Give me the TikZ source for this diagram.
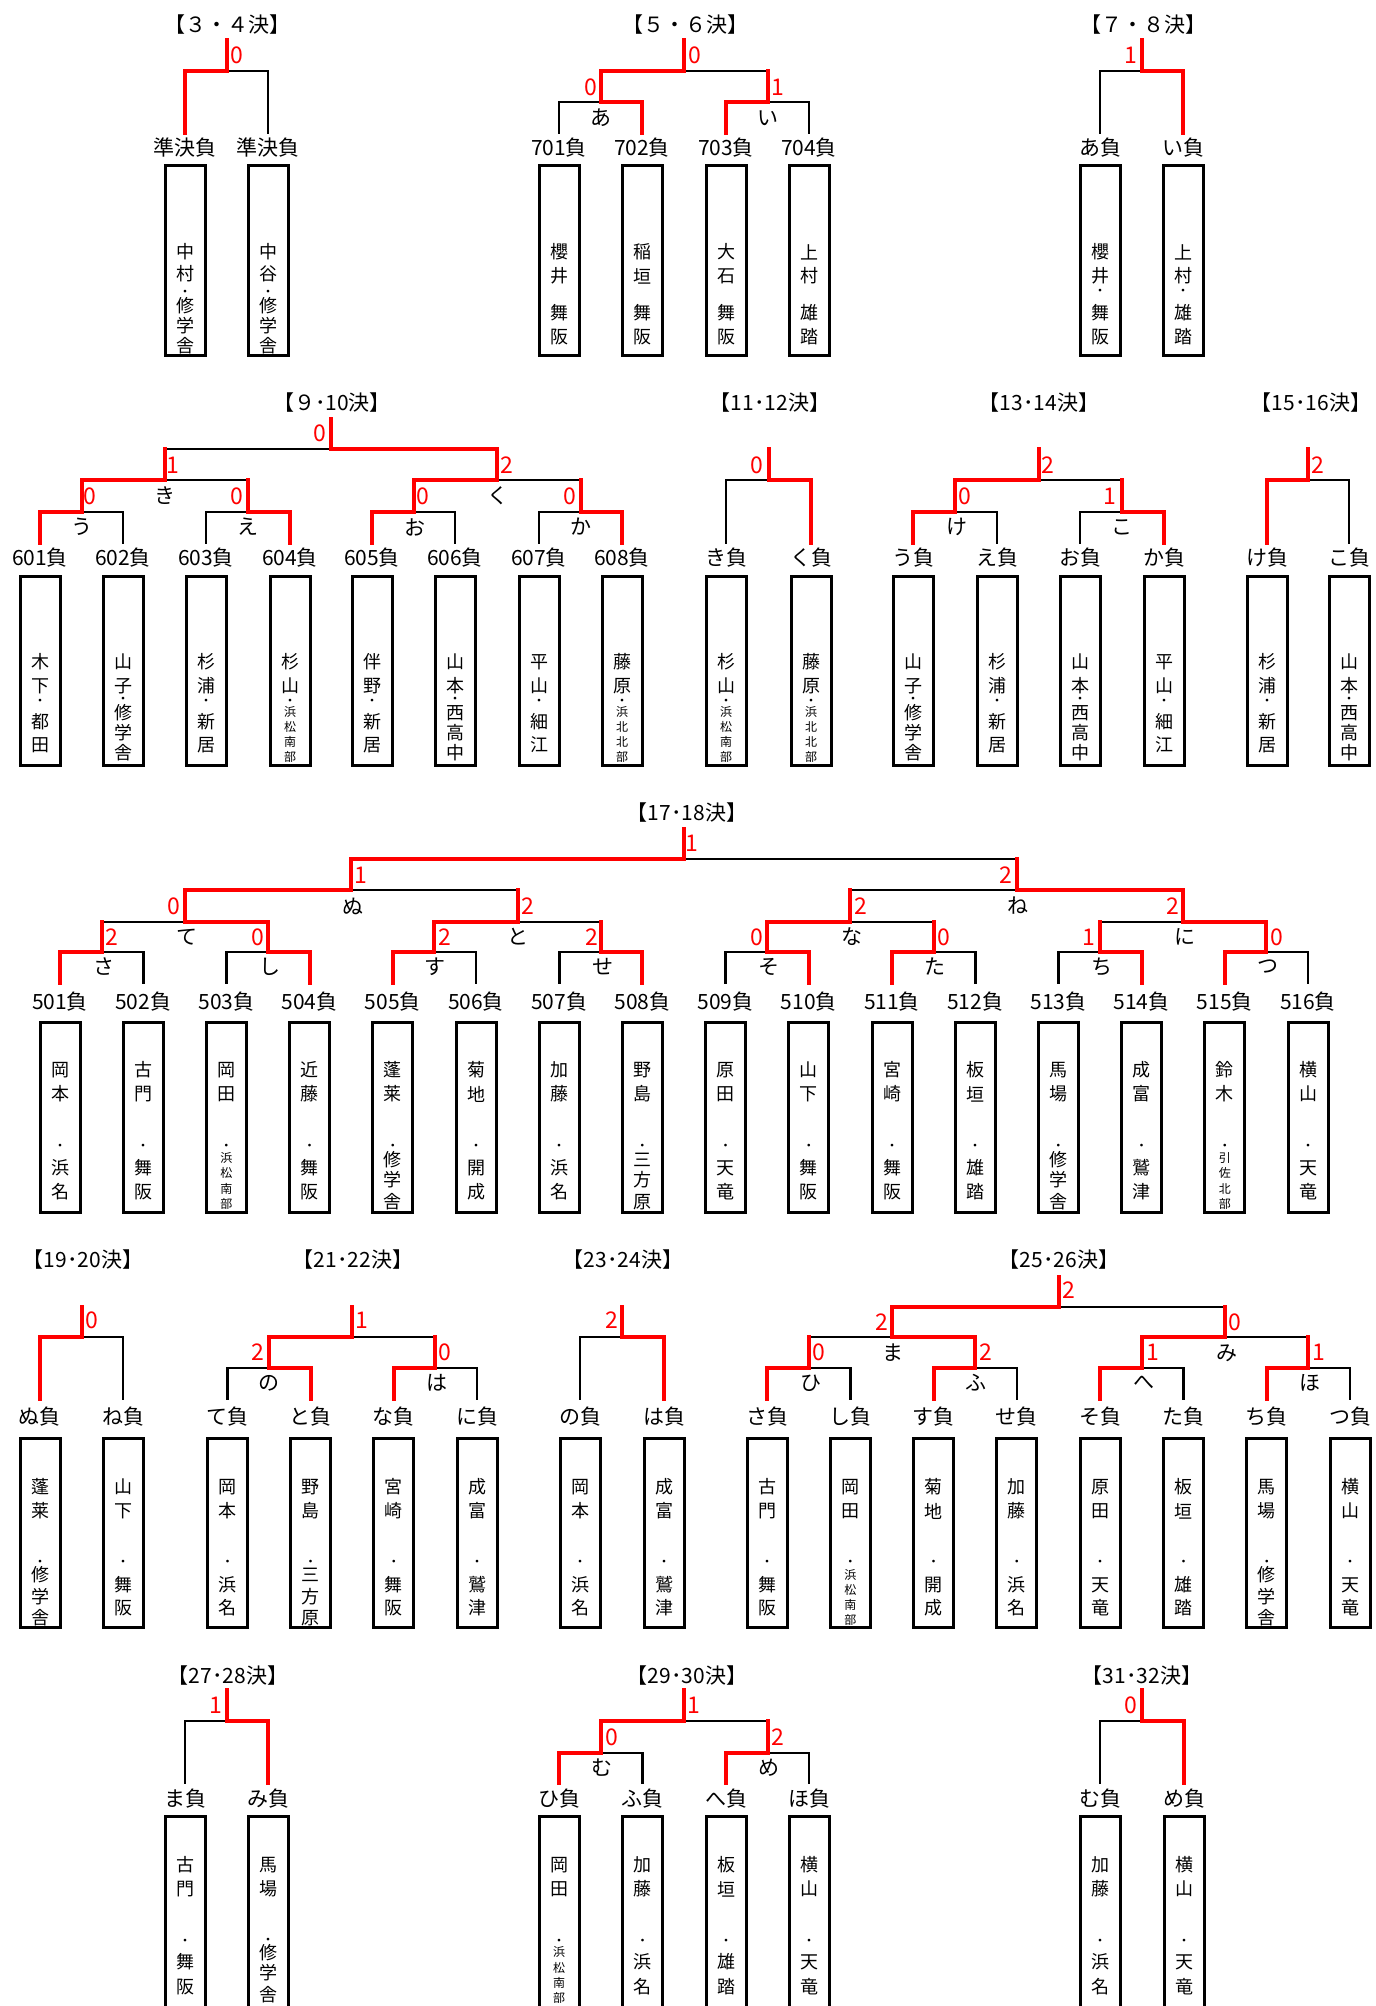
\documentclass[tikz,border=0pt]{standalone}
\usepackage{fontspec}
\setmainfont{Noto Sans CJK JP}
\pgfdeclarelayer{bg}
\pgfsetlayers{bg,main}
\tikzset{
  rl/.style={draw=red, line width=4pt, line cap=rect},
  bl/.style={draw=black, line width=2.7pt, line cap=rect},
  lab/.style={font=\fontsize{21}{21}\selectfont, inner sep=0pt},
  ttl/.style={font=\fontsize{21}{21}\selectfont, inner sep=0pt},
  mname/.style={font=\fontsize{21}{21}\selectfont, inner sep=0pt},
  sc/.style={text=red, font=\fontsize{23}{23}\selectfont, inner sep=0pt},
  bc/.style={font=\fontsize{18}{18}\selectfont, inner sep=0pt},
  sm/.style={font=\fontsize{12}{12}\selectfont, inner sep=0pt},
  dt/.style={font=\fontsize{13}{13}\selectfont, inner sep=0pt},
  pbox/.style={draw, line width=3pt, minimum width=40pt, minimum height=\hBox pt, inner sep=0pt},
}
\newcommand\leafbase[3]{%
  \node[lab] (#1) at (#2,\yLab) {#3};
  \coordinate (#1t) at (#2,\yEnd);
  \node[pbox] (#1b) at (#2,\yBox) {};}
\newcommand\leafA[7]{\leafbase{#1}{#2}{#3}%
  \node[bc] (#1n1) at (#2,\yC) {#4};
  \node[bc] (#1n2) at (#2,\yC+24) {#5};
  \node[dt] (#1d) at (#2,\yC+\oD) {・};
  \node[bc] (#1s1) at (#2,\yC+\oAa) {#6};
  \node[bc] (#1s2) at (#2,\yC+\oAb) {#7};}
\newcommand\leafD[7]{\leafbase{#1}{#2}{#3}%
  \node[bc] (#1n1) at (#2,\yC) {#4};
  \node[bc] (#1n2) at (#2,\yC+24) {#5};
  \node[bc] (#1s1) at (#2,\yC+\oAa) {#6};
  \node[bc] (#1s2) at (#2,\yC+\oAb) {#7};}
\newcommand\leafB[8]{\leafbase{#1}{#2}{#3}%
  \node[bc] (#1n1) at (#2,\yC) {#4};
  \node[bc] (#1n2) at (#2,\yC+\oNB) {#5};
  \node[dt] (#1d) at (#2,\yC+\oDB) {・};
  \node[bc] (#1s1) at (#2,\yC+\oBa) {#6};
  \node[bc] (#1s2) at (#2,\yC+\oBb) {#7};
  \node[bc] (#1s3) at (#2,\yC+\oBc) {#8};}
\newcommand\leafC[9]{\leafbase{#1}{#2}{#3}%
  \node[bc] (#1n1) at (#2,\yC) {#4};
  \node[bc] (#1n2) at (#2,\yC+24) {#5};
  \node[dt] (#1d) at (#2,\yC+\oD) {・};
  \node[sm] (#1s1) at (#2,\yC+\oCa) {#6};
  \node[sm] (#1s2) at (#2,\yC+\oCb) {#7};
  \node[sm] (#1s3) at (#2,\yC+\oCc) {#8};
  \node[sm] (#1s4) at (#2,\yC+\oCd) {#9};}
\newcommand\winp[2]{\draw[rl] (#1) |- (#2);}
\newcommand\losl[2]{\begin{pgfonlayer}{bg}\draw[bl] (#1) |- (#2);\end{pgfonlayer}}
\newcommand\losm[2]{\draw[rl] (#1) -- (#1 |- #2);\begin{pgfonlayer}{bg}\draw[bl] (#1 |- #2) -- (#2);\end{pgfonlayer}}
\newcommand\stemr[3]{\coordinate (#1s) at (#2,#3); \draw[rl] (#1) -- (#1s);}
\begin{document}
\begin{tikzpicture}[x=1pt,y=-1pt]
\begin{pgfonlayer}{bg}\fill[white] (0,0) rectangle (1376,2006);\end{pgfonlayer}
\useasboundingbox (0,0) rectangle (1376,2006);
\clip (0,0) rectangle (1376,2006);
% ================= ROW 1
\def\yLab{148}\def\yEnd{133}\def\yBox{260.5}\def\hBox{190}\def\yC{252}\def\oD{40}\def\oDB{41}\def\oNB{22}
\def\oAa{61}\def\oAb{85}\def\oBa{54}\def\oBb{74}\def\oBc{94}
\def\oCa{50}\def\oCb{65}\def\oCc{80}\def\oCd{95}
% 3-4
\node[ttl] (t34) at (227,25) {【３・４決】};
\leafB{qa}{185}{準決負}{中}{村}{修}{学}{舎}
\leafB{qb}{268}{準決負}{中}{谷}{修}{学}{舎}
\coordinate (m34) at (226.5,71);
\stemr{m34}{226.5}{40}
\winp{qat}{m34} \losl{qbt}{m34}
\node[sc] (c1) at (237,55) {0};
% 5-6
\node[ttl] (t56) at (685,25) {【５・６決】};
\leafD{p701}{559}{701負}{櫻}{井}{舞}{阪}
\leafD{p702}{642}{702負}{稲}{垣}{舞}{阪}
\leafD{p703}{726}{703負}{大}{石}{舞}{阪}
\leafD{p704}{809}{704負}{上}{村}{雄}{踏}
\coordinate (ma) at (600.5,102);
\coordinate (mi) at (767.5,102);
\coordinate (m56) at (684,71);
\stemr{m56}{684}{40}
\winp{ma}{m56} \losm{mi}{m56}
\losl{p701t}{ma} \winp{p702t}{ma}
\winp{p703t}{mi} \losl{p704t}{mi}
\node[mname] (La) at (601,118) {あ};
\node[mname] (Li) at (768,118) {い};
\node[sc] (c2) at (695,55) {0};
\node[sc] (c3) at (591,87) {0};
\node[sc] (c4) at (778,87) {1};
% 7-8
\node[ttl] (t78) at (1143,25) {【７・８決】};
\leafA{ra}{1100}{あ負}{櫻}{井}{舞}{阪}
\leafA{ri}{1183}{い負}{上}{村}{雄}{踏}
\coordinate (m78) at (1141.5,71);
\stemr{m78}{1141.5}{40}
\losl{rat}{m78} \winp{rit}{m78}
\node[sc] (c5) at (1131,55) {1};
% ================= ROW 2
\def\yLab{558}\def\yEnd{543}\def\yBox{670.5}\def\hBox{189}\def\yC{662}\def\oD{40}\def\oDB{38}\def\oNB{24}
\def\oAa{60}\def\oAb{83}\def\oBa{51}\def\oBb{71}\def\oBc{91}
\def\oCa{50}\def\oCb{65}\def\oCc{80}\def\oCd{95}
% 9-10
\node[ttl] (t910) at (332,403) {【９･10決】};
\leafA{p601}{40}{601負}{木}{下}{都}{田}
\leafB{p602}{123}{602負}{山}{子}{修}{学}{舎}
\leafA{p603}{206}{603負}{杉}{浦}{新}{居}
\leafC{p604}{290}{604負}{杉}{山}{浜}{松}{南}{部}
\leafA{p605}{372}{605負}{伴}{野}{新}{居}
\leafB{p606}{455}{606負}{山}{本}{西}{高}{中}
\leafA{p607}{539}{607負}{平}{山}{細}{江}
\leafC{p608}{622}{608負}{藤}{原}{浜}{北}{北}{部}
\coordinate (mu) at (81.5,512);
\coordinate (me) at (248,512);
\coordinate (mo) at (413.5,512);
\coordinate (mka) at (580.5,512);
\coordinate (mki) at (164.75,480);
\coordinate (mku) at (497.25,480);
\coordinate (m910) at (331,449);
\stemr{m910}{331}{419}
\losm{mki}{m910} \winp{mku}{m910}
\winp{mu}{mki} \losm{me}{mki}
\winp{mo}{mku} \losm{mka}{mku}
\winp{p601t}{mu} \losl{p602t}{mu}
\losl{p603t}{me} \winp{p604t}{me}
\winp{p605t}{mo} \losl{p606t}{mo}
\losl{p607t}{mka} \winp{p608t}{mka}
\node[mname] (Lki) at (165,496) {き};
\node[mname] (Lku) at (498,496) {く};
\node[mname] (Lu) at (82,527) {う};
\node[mname] (Le) at (248,527) {え};
\node[mname] (Lo) at (415,527) {お};
\node[mname] (Lka) at (581,527) {か};
\node[sc] (c6) at (320,433) {0};
\node[sc] (c7) at (173,465) {1};
\node[sc] (c8) at (507,465) {2};
\node[sc] (c9) at (90,496) {0};
\node[sc] (c10) at (237,496) {0};
\node[sc] (c11) at (423,496) {0};
\node[sc] (c12) at (570,496) {0};
% 11-12
\node[ttl] (t1112) at (770,403) {【11･12決】};
\leafC{rki}{726}{き負}{杉}{山}{浜}{松}{南}{部}
\leafC{rku}{811}{く負}{藤}{原}{浜}{北}{北}{部}
\coordinate (m1112) at (768.5,480);
\stemr{m1112}{768.5}{449}
\losl{rkit}{m1112} \winp{rkut}{m1112}
\node[sc] (c13) at (757,465) {0};
% 13-14
\node[ttl] (t1314) at (1039,403) {【13･14決】};
\leafB{ru}{913}{う負}{山}{子}{修}{学}{舎}
\leafA{re}{997}{え負}{杉}{浦}{新}{居}
\leafB{ro}{1080}{お負}{山}{本}{西}{高}{中}
\leafA{rka}{1164}{か負}{平}{山}{細}{江}
\coordinate (mke) at (955,512);
\coordinate (mko) at (1122,512);
\coordinate (m1314) at (1038.5,480);
\stemr{m1314}{1038.5}{449}
\winp{mke}{m1314} \losm{mko}{m1314}
\winp{rut}{mke} \losl{ret}{mke}
\losl{rot}{mko} \winp{rkat}{mko}
\node[mname] (Lke) at (957,527) {け};
\node[mname] (Lko) at (1122,527) {こ};
\node[sc] (c14) at (1048,465) {2};
\node[sc] (c15) at (965,496) {0};
\node[sc] (c16) at (1110,496) {1};
% 15-16
\node[ttl] (t1516) at (1311,403) {【15･16決】};
\leafA{rke}{1267}{け負}{杉}{浦}{新}{居}
\leafB{rko}{1349}{こ負}{山}{本}{西}{高}{中}
\coordinate (m1516) at (1308,480);
\stemr{m1516}{1308}{449}
\winp{rket}{m1516} \losl{rkot}{m1516}
\node[sc] (c17) at (1318,465) {2};
% ================= ROW 3
\def\yLab{1002}\def\yEnd{983}\def\yBox{1117}\def\hBox{190}\def\yC{1070}\def\oD{77}\def\oDB{77}\def\oNB{24}
\def\oAa{98}\def\oAb{122}\def\oBa{90}\def\oBb{110}\def\oBc{132}
\def\oCa{88}\def\oCb{103}\def\oCc{119}\def\oCd{134}
\node[ttl] (t1718) at (687,813) {【17･18決】};
\leafA{p501}{60}{501負}{岡}{本}{浜}{名}
\leafA{p502}{143.2}{502負}{古}{門}{舞}{阪}
\leafC{p503}{226.4}{503負}{岡}{田}{浜}{松}{南}{部}
\leafA{p504}{309.6}{504負}{近}{藤}{舞}{阪}
\leafB{p505}{392.8}{505負}{蓬}{莱}{修}{学}{舎}
\leafA{p506}{476}{506負}{菊}{地}{開}{成}
\leafA{p507}{559.2}{507負}{加}{藤}{浜}{名}
\leafB{p508}{642.4}{508負}{野}{島}{三}{方}{原}
\leafA{p509}{725.6}{509負}{原}{田}{天}{竜}
\leafA{p510}{808.8}{510負}{山}{下}{舞}{阪}
\leafA{p511}{892}{511負}{宮}{崎}{舞}{阪}
\leafA{p512}{975.2}{512負}{板}{垣}{雄}{踏}
\leafB{p513}{1058.4}{513負}{馬}{場}{修}{学}{舎}
\leafA{p514}{1141.6}{514負}{成}{富}{鷲}{津}
\leafC{p515}{1224.8}{515負}{鈴}{木}{引}{佐}{北}{部}
\leafA{p516}{1308}{516負}{横}{山}{天}{竜}
\coordinate (msa) at (101.6,952);
\coordinate (mshi) at (268,952);
\coordinate (msu) at (434.4,952);
\coordinate (mse) at (600.8,952);
\coordinate (mso) at (767.2,952);
\coordinate (mta) at (933.6,952);
\coordinate (mchi) at (1100,952);
\coordinate (mtsu) at (1266.4,952);
\coordinate (mte) at (184.8,922);
\coordinate (mto) at (517.6,922);
\coordinate (mna) at (850.4,922);
\coordinate (mni) at (1183.2,922);
\coordinate (mnu) at (351.2,890);
\coordinate (mne) at (1016.8,890);
\coordinate (m1718) at (684,859);
\stemr{m1718}{684}{829}
\winp{mnu}{m1718} \losm{mne}{m1718}
\winp{mte}{mnu} \losm{mto}{mnu}
\losm{mna}{mne} \winp{mni}{mne}
\losm{msa}{mte} \winp{mshi}{mte}
\winp{msu}{mto} \losm{mse}{mto}
\winp{mso}{mna} \losm{mta}{mna}
\losm{mchi}{mni} \winp{mtsu}{mni}
\winp{p501t}{msa} \losl{p502t}{msa}
\losl{p503t}{mshi} \winp{p504t}{mshi}
\winp{p505t}{msu} \losl{p506t}{msu}
\losl{p507t}{mse} \winp{p508t}{mse}
\losl{p509t}{mso} \winp{p510t}{mso}
\winp{p511t}{mta} \losl{p512t}{mta}
\losl{p513t}{mchi} \winp{p514t}{mchi}
\winp{p515t}{mtsu} \losl{p516t}{mtsu}
\node[mname] (Lnu) at (353,906) {ぬ};
\node[mname] (Lne) at (1018,906) {ね};
\node[mname] (Lte) at (187,937) {て};
\node[mname] (Lto) at (518,937) {と};
\node[mname] (Lna) at (852,937) {な};
\node[mname] (Lni) at (1185,937) {に};
\node[mname] (Lsa) at (104,967) {さ};
\node[mname] (Lshi) at (270,967) {し};
\node[mname] (Lsu) at (435,967) {す};
\node[mname] (Lse) at (603,967) {せ};
\node[mname] (Lso) at (769,967) {そ};
\node[mname] (Lta) at (935,967) {た};
\node[mname] (Lchi) at (1102,967) {ち};
\node[mname] (Ltsu) at (1268,967) {つ};
\node[sc] (c18) at (692,843) {1};
\node[sc] (c19) at (361,875) {1};
\node[sc] (c20) at (1006,875) {2};
\node[sc] (c21) at (174,906) {0};
\node[sc] (c22) at (528,906) {2};
\node[sc] (c23) at (861,906) {2};
\node[sc] (c24) at (1173,906) {2};
\node[sc] (c25) at (112,937) {2};
\node[sc] (c26) at (258,937) {0};
\node[sc] (c27) at (445,937) {2};
\node[sc] (c28) at (592,937) {2};
\node[sc] (c29) at (757,937) {0};
\node[sc] (c30) at (944,937) {0};
\node[sc] (c31) at (1089,937) {1};
\node[sc] (c32) at (1277,937) {0};
% ================= ROW 4
\def\yLab{1417}\def\yEnd{1399}\def\yBox{1532.5}\def\hBox{189}\def\yC{1487}\def\oD{76}\def\oDB{76}\def\oNB{24}
\def\oAa{98}\def\oAb{121}\def\oBa{88}\def\oBb{110}\def\oBc{131}
\def\oCa{88}\def\oCb{103}\def\oCc{118}\def\oCd{133}
% 19-20
\node[ttl] (t1920) at (83,1260) {【19･20決】};
\leafB{rnu}{40}{ぬ負}{蓬}{莱}{修}{学}{舎}
\leafA{rne}{123}{ね負}{山}{下}{舞}{阪}
\coordinate (m1920) at (81.5,1337);
\stemr{m1920}{81.5}{1307}
\winp{rnut}{m1920} \losl{rnet}{m1920}
\node[sc] (c33) at (92,1320) {0};
% 21-22
\node[ttl] (t2122) at (353,1260) {【21･22決】};
\leafA{rte}{227.5}{て負}{岡}{本}{浜}{名}
\leafB{rto}{310.7}{と負}{野}{島}{三}{方}{原}
\leafA{rna}{393.9}{な負}{宮}{崎}{舞}{阪}
\leafA{rni}{477}{に負}{成}{富}{鷲}{津}
\coordinate (mno) at (269.1,1368);
\coordinate (mha) at (435.45,1368);
\coordinate (m2122) at (352.3,1337);
\stemr{m2122}{352.3}{1307}
\winp{mno}{m2122} \losm{mha}{m2122}
\losl{rtet}{mno} \winp{rtot}{mno}
\winp{rnat}{mha} \losl{rnit}{mha}
\node[mname] (Lno) at (269,1383) {の};
\node[mname] (Lha) at (437,1383) {は};
\node[sc] (c34) at (362,1320) {1};
\node[sc] (c35) at (258,1352) {2};
\node[sc] (c36) at (445,1352) {0};
% 23-24
\node[ttl] (t2324) at (623,1260) {【23･24決】};
\leafA{rno}{580}{の負}{岡}{本}{浜}{名}
\leafA{rha}{664}{は負}{成}{富}{鷲}{津}
\coordinate (m2324) at (622,1337);
\stemr{m2324}{622}{1307}
\losl{rnot}{m2324} \winp{rhat}{m2324}
\node[sc] (c37) at (612,1320) {2};
% 25-26
\node[ttl] (t2526) at (1059,1260) {【25･26決】};
\leafA{rsa}{767}{さ負}{古}{門}{舞}{阪}
\leafC{rshi}{850.3}{し負}{岡}{田}{浜}{松}{南}{部}
\leafA{rsu}{933.6}{す負}{菊}{地}{開}{成}
\leafA{rse}{1016.9}{せ負}{加}{藤}{浜}{名}
\leafA{rso}{1100.2}{そ負}{原}{田}{天}{竜}
\leafA{rta}{1183.5}{た負}{板}{垣}{雄}{踏}
\leafB{rchi}{1266.8}{ち負}{馬}{場}{修}{学}{舎}
\leafA{rtsu}{1350}{つ負}{横}{山}{天}{竜}
\coordinate (mhi) at (808.65,1368);
\coordinate (mfu) at (975.25,1368);
\coordinate (mhe) at (1141.85,1368);
\coordinate (mho) at (1308.4,1368);
\coordinate (mma) at (891.95,1337);
\coordinate (mmi) at (1225.1,1337);
\coordinate (m2526) at (1058.5,1307);
\stemr{m2526}{1058.5}{1277}
\winp{mma}{m2526} \losm{mmi}{m2526}
\losm{mhi}{mma} \winp{mfu}{mma}
\winp{mhe}{mmi} \losm{mho}{mmi}
\winp{rsat}{mhi} \losl{rshit}{mhi}
\winp{rsut}{mfu} \losl{rset}{mfu}
\winp{rsot}{mhe} \losl{rtat}{mhe}
\winp{rchit}{mho} \losl{rtsut}{mho}
\node[mname] (Lma) at (893,1353) {ま};
\node[mname] (Lmi) at (1227,1353) {み};
\node[mname] (Lhi) at (811,1383) {ひ};
\node[mname] (Lfu) at (976,1383) {ふ};
\node[mname] (Lhe) at (1144,1383) {へ};
\node[mname] (Lho) at (1310,1383) {ほ};
\node[sc] (c38) at (1069,1290) {2};
\node[sc] (c39) at (882,1322) {2};
\node[sc] (c40) at (1235,1322) {0};
\node[sc] (c41) at (819,1352) {0};
\node[sc] (c42) at (986,1352) {2};
\node[sc] (c43) at (1153,1352) {1};
\node[sc] (c44) at (1319,1352) {1};
% ================= ROW 5
\def\yLab{1799}\def\yEnd{1783}\def\yBox{1926.5}\def\hBox{220}\def\yC{1865}\def\oD{77}\def\oDB{76}\def\oNB{24}
\def\oAa{97}\def\oAb{122}\def\oBa{88}\def\oBb{108}\def\oBc{130}
\def\oCa{87}\def\oCb{103}\def\oCc{118}\def\oCd{133}
% 27-28
\node[ttl] (t2728) at (228,1675) {【27･28決】};
\leafA{rma}{185}{ま負}{古}{門}{舞}{阪}
\leafB{rmi}{268}{み負}{馬}{場}{修}{学}{舎}
\coordinate (m2728) at (226.5,1721);
\stemr{m2728}{226.5}{1690}
\losl{rmat}{m2728} \winp{rmit}{m2728}
\node[sc] (c45) at (216,1705) {1};
% 29-30
\node[ttl] (t2930) at (687,1675) {【29･30決】};
\leafC{rhi}{559}{ひ負}{岡}{田}{浜}{松}{南}{部}
\leafA{rfu}{642.5}{ふ負}{加}{藤}{浜}{名}
\leafA{rhe}{726}{へ負}{板}{垣}{雄}{踏}
\leafA{rho}{809}{ほ負}{横}{山}{天}{竜}
\coordinate (mmu) at (600.75,1753);
\coordinate (mme) at (767.5,1753);
\coordinate (m2930) at (684.1,1721);
\stemr{m2930}{684.1}{1690}
\winp{mmu}{m2930} \losm{mme}{m2930}
\winp{rhit}{mmu} \losl{rfut}{mmu}
\winp{rhet}{mme} \losl{rhot}{mme}
\node[mname] (Lmu) at (602,1768) {む};
\node[mname] (Lme) at (769,1768) {め};
\node[sc] (c46) at (694,1705) {1};
\node[sc] (c47) at (612,1737) {0};
\node[sc] (c48) at (778,1737) {2};
% 31-32
\node[ttl] (t3132) at (1142,1675) {【31･32決】};
\leafA{rmu}{1100}{む負}{加}{藤}{浜}{名}
\leafA{rme}{1184}{め負}{横}{山}{天}{竜}
\coordinate (m3132) at (1142,1721);
\stemr{m3132}{1142}{1690}
\losl{rmut}{m3132} \winp{rmet}{m3132}
\node[sc] (c49) at (1131,1705) {0};
\end{tikzpicture}
\end{document}
